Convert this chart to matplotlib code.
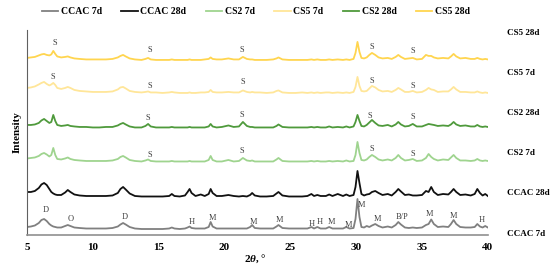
import matplotlib
matplotlib.use('Agg')
import matplotlib.pyplot as plt

plt.rcParams['font.family'] = ['Liberation Serif', 'DejaVu Serif']
plt.rcParams['mathtext.fontset'] = 'custom'
plt.rcParams['mathtext.it'] = 'Liberation Serif:italic:bold'
plt.rcParams['mathtext.rm'] = 'Liberation Serif:bold'

# 2theta positions (deg) shared by all patterns
two_theta = [
    5.0, 5.3, 5.6, 5.9, 6.1, 6.3, 6.5, 6.7, 6.85, 7.0,
    7.15, 7.3, 7.6, 7.9, 8.1, 8.3, 8.6, 9.0, 9.5, 10.0,
    10.5, 11.0, 11.5, 11.9, 12.1, 12.3, 12.5, 12.8, 13.2, 13.7,
    14.0, 14.2, 14.4, 14.8, 15.3, 15.8, 16.0, 16.2, 16.6, 17.0,
    17.2, 17.35, 17.5, 17.8, 18.2, 18.5, 18.8, 18.95, 19.1, 19.4,
    19.8, 20.3, 20.7, 21.1, 21.4, 21.7, 21.95, 22.1, 22.3, 22.7,
    23.2, 23.7, 23.95, 24.1, 24.4, 24.9, 25.4, 25.9, 26.3, 26.6,
    26.8, 27.05, 27.3, 27.7, 27.95, 28.2, 28.6, 29.0, 29.25, 29.5,
    29.8, 29.95, 30.1, 30.25, 30.4, 30.6, 30.8, 31.0, 31.2, 31.45,
    31.7, 32.0, 32.4, 32.7, 33.0, 33.2, 33.4, 33.7, 34.0, 34.3,
    34.6, 35.0, 35.3, 35.5, 35.7, 35.9, 36.2, 36.6, 37.0, 37.2,
    37.4, 37.6, 37.9, 38.3, 38.7, 39.0, 39.2, 39.4, 39.6, 39.8,
    40.0,
]

ccac_7d = [
    2, 2.5, 3.5, 6, 9, 10, 8, 5, 3.5, 2.5,
    2, 1.5, 1.5, 3, 4, 3, 1.5, 1, 0.5, 0.5,
    0.5, 0.5, 1, 2.5, 4.5, 6, 4.5, 2, 0.5, 0,
    0, 0, 0, 0, 0, 0.5, 1.5, 0.5, 0, 0.5,
    1.5, 2.5, 1, 0.5, 0.5, 0.5, 2, 7, 2.5, 0.5,
    0.5, 0.5, 0.5, 0.5, 0.5, 0.5, 2, 4, 1, 0.5,
    0.5, 0.5, 2.5, 4, 1, 0.5, 0.5, 0.5, 0.5, 2,
    0.5, 2, 0.5, 0.5, 2, 0.5, 0.5, 0.5, 2, 0.5,
    1, 10, 30, 12, 2, 1.5, 3, 2, 3.5, 5,
    3, 1.5, 2.5, 1.5, 4, 7, 4.5, 1.5, 1, 1.5,
    1, 1.5, 4, 5, 9.5, 5, 2, 2.5, 2, 5,
    9, 5, 2, 1.5, 1.5, 2, 5, 2.5, 1.5, 3,
    1.5,
]

ccac_28d = [
    5, 5, 6, 9, 12.5, 14, 12, 8, 5, 3.5,
    2.5, 2, 2, 4.5, 7, 5, 2.5, 1.5, 1, 1,
    1, 1, 1.5, 4, 8, 10, 7.5, 3.5, 1, 0.5,
    0.5, 0.5, 0.5, 0.5, 0.5, 1, 3, 1, 0.5, 1.5,
    5, 8, 4, 1, 2.5, 1, 3, 8, 4, 1,
    1, 2, 1, 0.5, 1, 0.5, 2, 4, 1.5, 0.5,
    0.5, 1, 3.5, 5, 1.5, 0.5, 0.5, 0.5, 1, 3,
    1, 2, 1, 1, 2.5, 1, 3, 1, 2.5, 1,
    2, 10, 26, 14, 3, 1.5, 2.5, 3, 5, 6,
    4, 2, 3, 1.5, 5, 8, 5.5, 2, 2.5, 1.5,
    1.5, 2, 6, 5, 10, 5, 2, 3, 2.5, 5,
    8, 5, 2, 2.5, 1.5, 3, 8, 4, 1.5, 3,
    1,
]

cs2_7d = [
    3.5, 4, 4.5, 6, 8, 9, 7.5, 5.5, 7, 14,
    7, 3, 2.5, 3.5, 4.5, 3, 2, 1.5, 1, 1,
    1, 1, 1.5, 3, 5, 6, 4.5, 2, 1, 0.5,
    1.5, 2.5, 1, 0.5, 0.5, 0.5, 1, 0.5, 0.5, 0.5,
    0.5, 1, 0.5, 0.5, 0.5, 0.5, 2, 6, 2, 0.5,
    0.5, 2, 0.5, 1, 4, 1.5, 1, 1.5, 0.5, 0.5,
    0.5, 0.5, 2.5, 4, 1, 0.5, 0.5, 0.5, 0.5, 1,
    0.5, 1, 0.5, 0.5, 1, 0.5, 1, 0.5, 1.5, 0.5,
    1, 7, 20, 9, 2, 1.5, 2.5, 5, 7, 5,
    2.5, 1.5, 2.5, 1.5, 4, 7, 4, 1.5, 2, 3,
    1, 1.5, 4, 8, 5, 3, 1.5, 2.5, 2, 4.5,
    7, 4, 1.5, 1.5, 1, 1.5, 3, 1.5, 1, 1.5,
    1,
]

cs2_28d = [
    3, 3, 3.5, 5, 7.5, 9, 7, 5, 6, 13,
    7, 3, 2, 2.5, 3, 2, 1.5, 1, 1, 0.5,
    0.5, 1, 1, 2.5, 4, 5, 3.5, 1.5, 0.5, 0.5,
    2, 4, 1.5, 0.5, 0.5, 0.5, 1, 0.5, 0.5, 0.5,
    0.5, 1, 0.5, 0.5, 0.5, 0.5, 1.5, 4, 1.5, 0.5,
    1, 2.5, 1, 1.5, 6, 2, 1, 1, 0.5, 0.5,
    0.5, 0.5, 2, 3.5, 1, 0.5, 0.5, 0.5, 0.5, 1,
    0.5, 1, 0.5, 0.5, 1.5, 0.5, 1, 0.5, 1.5, 0.5,
    1.5, 6, 13, 7, 2, 1.5, 3, 5.5, 8, 5,
    2.5, 2, 3, 1.5, 3.5, 6, 3.5, 1.5, 2, 4,
    1.5, 1.5, 3, 4, 3.5, 3, 2, 2.5, 2, 3.5,
    6, 3.5, 2, 2.5, 1.5, 1.5, 3, 1.5, 1, 1.5,
    1,
]

cs5_7d = [
    5, 5.5, 6.5, 8.5, 10, 11, 9, 7.5, 8.5, 10,
    8, 5, 4, 5, 6, 5, 3, 2, 1.5, 1,
    1, 1, 1.5, 3.5, 5.5, 6, 4.5, 2, 1, 0.5,
    1, 1.5, 0.5, 0.5, 0, 0.5, 1, 0.5, 0, 0,
    0, 0.5, 0, 0, 0.5, 0.5, 1, 3, 1, 0.5,
    0.5, 1, 0.5, 0.5, 2.5, 1, 0.5, 1, 0.5, 0.5,
    0, 0.5, 2, 2.5, 0.5, 0, 0, 0.5, 0, 0.5,
    0, 0.5, 0, 0.5, 0.5, 0, 0.5, 0, 0.5, 0,
    1, 6, 16, 7, 2, 1.5, 2, 4.5, 7, 5.5,
    3, 1.5, 2, 1, 3, 5, 3.5, 1, 1, 2,
    0.5, 1, 3, 5, 3.5, 3, 1, 1.5, 1.5, 3.5,
    6, 3.5, 1, 1, 0.5, 0.5, 1.5, 0.5, 0, 0.5,
    0,
]

cs5_28d = [
    2, 2.5, 3, 4.5, 5.5, 6, 5, 4.5, 5.5, 9,
    6, 3.5, 2.5, 3, 3.5, 2.5, 1.5, 1, 0.5, 0.5,
    0.5, 0.5, 1, 2.5, 4, 5, 3.5, 1.5, 0.5, 0,
    1, 2, 0.5, 0, 0, 0, 0.5, 0, 0, 0,
    0, 0.5, 0, 0, 0, 0.5, 1, 2.5, 1, 0.5,
    0.5, 1.5, 0.5, 0.5, 3, 1, 0.5, 0.5, 0, 0,
    0, 0.5, 1.5, 2.5, 0.5, 0, 0, 0, 0, 0.5,
    0, 0.5, 0, 0, 0.5, 0, 0.5, 0, 0.5, 0,
    1, 7, 18, 8, 2, 1.5, 2.5, 5, 7, 5,
    2.5, 1.5, 2, 1, 3, 5, 3, 1, 1.5, 2,
    0.5, 1, 5, 4, 4, 2.5, 1.5, 2, 1.5, 3.5,
    6, 3.5, 1.5, 2, 1, 1, 2, 1, 0.5, 1,
    0.5,
]

series_names = ['CCAC 7d', 'CCAC 28d', 'CS2 7d', 'CS5 7d', 'CS2 28d', 'CS5 28d']
series_values = [ccac_7d, ccac_28d, cs2_7d, cs5_7d, cs2_28d, cs5_28d]
colors = ['#808080', '#111111', '#9fd48f', '#ffe699', '#4f9a3c', '#ffd54f']
offsets = [6, 38, 73, 142, 107, 175]

# labels on the right (name, height)
right_labels = [('CS5 28d', 202), ('CS5 7d', 162), ('CS2 28d', 122),
                ('CS2 7d', 82), ('CCAC 28d', 42), ('CCAC 7d', 1)]

# phase marks: (text, 2theta, height)
phase_marks = [
    ('D', 6.4, 25), ('O', 8.3, 16), ('D', 12.4, 18), ('H', 17.5, 13),
    ('M', 19.1, 17), ('M', 22.2, 13), ('M', 24.2, 15), ('H', 26.6, 11),
    ('H', 27.2, 13), ('M', 28.1, 13), ('M', 29.4, 10), ('M', 30.4, 30),
    ('M', 31.65, 16), ('B/P', 33.5, 18), ('M', 35.6, 21), ('M', 37.4, 19),
    ('H', 39.5, 15),
    ('S', 7.1, 192), ('S', 14.3, 185), ('S', 21.3, 185), ('S', 31.2, 188), ('S', 34.3, 184),
    ('S', 7.0, 158), ('S', 14.3, 149), ('S', 21.4, 153), ('S', 31.2, 154), ('S', 34.3, 149),
    ('S', 14.2, 117), ('S', 21.3, 120), ('S', 31.05, 119), ('S', 34.3, 118),
    ('S', 14.3, 80), ('S', 21.3, 84), ('S', 31.2, 86), ('S', 34.3, 81),
]

fig = plt.figure(figsize=(5.5, 2.72), dpi=100)
ax = fig.add_axes([0.049, 0.136, 0.838, 0.754])

for name, vals, c, off in zip(series_names, series_values, colors, offsets):
    ax.plot(two_theta, [v + off for v in vals], color=c, lw=1.3, label=name)

for txt, x, y in phase_marks:
    ax.text(x, y, txt, ha='center', va='center', fontsize=6, color='#404040')

for txt, y in right_labels:
    ax.text(41.45, y, txt, ha='left', va='center', fontsize=6.5,
            fontweight='bold', clip_on=False)

ax.set_xlim(5, 40)
ax.set_ylim(0, 205)
ax.set_xticks([5, 10, 15, 20, 25, 30, 35, 40])
ax.set_yticks([])
ax.tick_params(axis='x', length=0, labelsize=8, pad=6)
for lab in ax.get_xticklabels():
    lab.set_fontweight('bold')
for s in ['top', 'right']:
    ax.spines[s].set_visible(False)
ax.spines['left'].set_color('#606060')
ax.spines['bottom'].set_color('#909090')
ax.spines['bottom'].set_linewidth(1.2)

ax.set_xlabel(r'2$\theta$, °', fontsize=8, fontweight='bold')
ax.xaxis.set_label_coords(0.495, -0.085)
ax.set_ylabel('Intensity', fontsize=8, fontweight='bold', labelpad=4)

fig.legend(loc='center', bbox_to_anchor=(0.465, 0.956), ncol=6, frameon=False,
           prop={'weight': 'bold', 'size': 7}, handlelength=1.7,
           handletextpad=0.25, columnspacing=2.0)

fig.savefig('out.png', dpi=100)
